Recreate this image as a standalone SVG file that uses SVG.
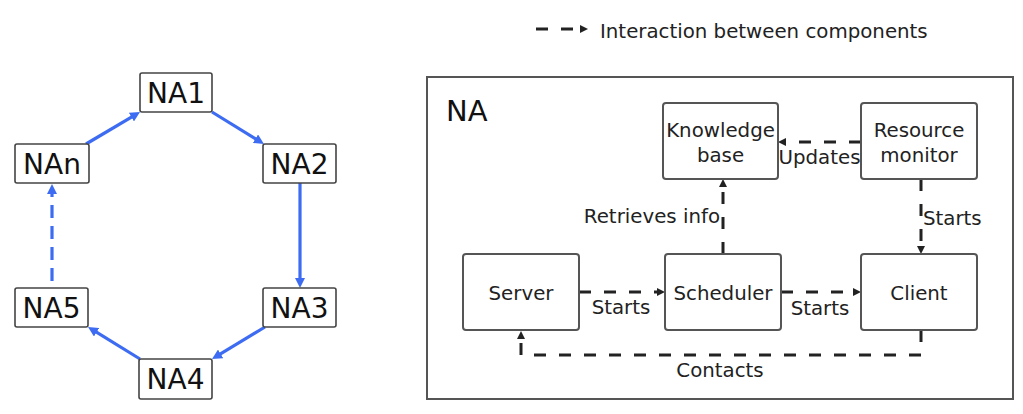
<svg xmlns="http://www.w3.org/2000/svg" width="1023" height="414" viewBox="0 0 1023 414">
<style>
.ring rect{fill:#fff;stroke:#444;stroke-width:1.6}
.ring text{font-family:"DejaVu Sans",sans-serif;font-size:28px;fill:#111;text-anchor:middle}
.comp rect{fill:#fff;stroke:#555;stroke-width:2}
.comp text,.lbl{font-family:"DejaVu Sans",sans-serif;font-size:19.8px;fill:#222}
.comp text{text-anchor:middle}
.blue{fill:none;stroke:#3d6cf2;stroke-width:3.2}
.dash{fill:none;stroke:#222;stroke-width:3;stroke-dasharray:12 13}
</style>
<defs>
<marker id="ab" markerUnits="userSpaceOnUse" markerWidth="11" markerHeight="10" refX="3" refY="5" orient="auto">
<path d="M0,0 L10,5 L0,10 z" fill="#3d6cf2"/>
</marker>
<marker id="ak" markerUnits="userSpaceOnUse" markerWidth="9" markerHeight="9" refX="2" refY="4" orient="auto">
<path d="M0,0 L8,4 L0,8 z" fill="#222"/>
</marker>
</defs>

<g id="legend">
<path class="dash" d="M536,29 H582" stroke-dasharray="13 13" marker-end="url(#ak)"/>
<text class="lbl" x="600" y="37.5" font-size="20.3">Interaction between components</text>
</g>

<g id="ring-connectors">
<path class="blue" d="M86,144 L134,115.6" marker-end="url(#ab)"/>
<path class="blue" d="M212,112 L258,140.3" marker-end="url(#ab)"/>
<path class="blue" d="M300,183 L300,281" marker-end="url(#ab)"/>
<path class="blue" d="M265,327 L218,355.4" marker-end="url(#ab)"/>
<path class="blue" d="M140,359 L94,330.7" marker-end="url(#ab)"/>
<path class="blue" d="M52,281 L52,191" stroke-dasharray="13 8" marker-end="url(#ab)"/>
</g>

<g id="NA1" class="ring"><rect x="140" y="73" width="72" height="39" rx="2"/><text x="176" y="102.5">NA1</text></g>
<g id="NAn" class="ring"><rect x="15" y="144" width="74" height="39" rx="2"/><text x="52" y="173.5">NAn</text></g>
<g id="NA2" class="ring"><rect x="263" y="144" width="73" height="39" rx="2"/><text x="299.5" y="173.5">NA2</text></g>
<g id="NA5" class="ring"><rect x="15" y="288" width="73" height="39" rx="2"/><text x="51.5" y="317.5">NA5</text></g>
<g id="NA3" class="ring"><rect x="263" y="288" width="73" height="39" rx="2"/><text x="299.5" y="317.5">NA3</text></g>
<g id="NA4" class="ring"><rect x="139" y="359" width="73" height="40" rx="2"/><text x="175.5" y="389">NA4</text></g>

<g id="NA">
<rect x="427" y="77" width="586" height="322" fill="none" stroke="#555" stroke-width="2"/>
<text x="446" y="121" font-family="DejaVu Sans, sans-serif" font-size="29" fill="#111">NA</text>
</g>

<g id="connectors">
<path class="dash" d="M579,292 H659" marker-end="url(#ak)"/>
<path class="dash" d="M781,292 H855" marker-end="url(#ak)"/>
<path class="dash" d="M861,142 H784" marker-end="url(#ak)"/>
<path class="dash" d="M723,254 V185" marker-end="url(#ak)"/>
<path class="dash" d="M921,179 V248" marker-end="url(#ak)"/>
<path class="dash" d="M921,330 V355 H521 V337" marker-end="url(#ak)"/>
<text class="lbl" x="621" y="314" text-anchor="middle">Starts</text>
<text class="lbl" x="820" y="315" text-anchor="middle">Starts</text>
<text class="lbl" x="720" y="377" text-anchor="middle">Contacts</text>
<text class="lbl" x="720" y="223" text-anchor="end">Retrieves info</text>
<text class="lbl" x="819.5" y="164" text-anchor="middle">Updates</text>
<text class="lbl" x="923" y="225">Starts</text>
</g>

<g id="knowledge-base" class="comp"><rect x="663" y="103" width="115" height="76" rx="3"/><text x="720.5" y="137">Knowledge</text><text x="720.5" y="162">base</text></g>
<g id="resource-monitor" class="comp"><rect x="861" y="103" width="116" height="76" rx="3"/><text x="919" y="137">Resource</text><text x="919" y="162">monitor</text></g>
<g id="server" class="comp"><rect x="463" y="254" width="116" height="76" rx="3"/><text x="521" y="300">Server</text></g>
<g id="scheduler" class="comp"><rect x="665" y="254" width="116" height="76" rx="3"/><text x="723" y="300">Scheduler</text></g>
<g id="client" class="comp"><rect x="861" y="254" width="116" height="76" rx="3"/><text x="919" y="300">Client</text></g>
</svg>
